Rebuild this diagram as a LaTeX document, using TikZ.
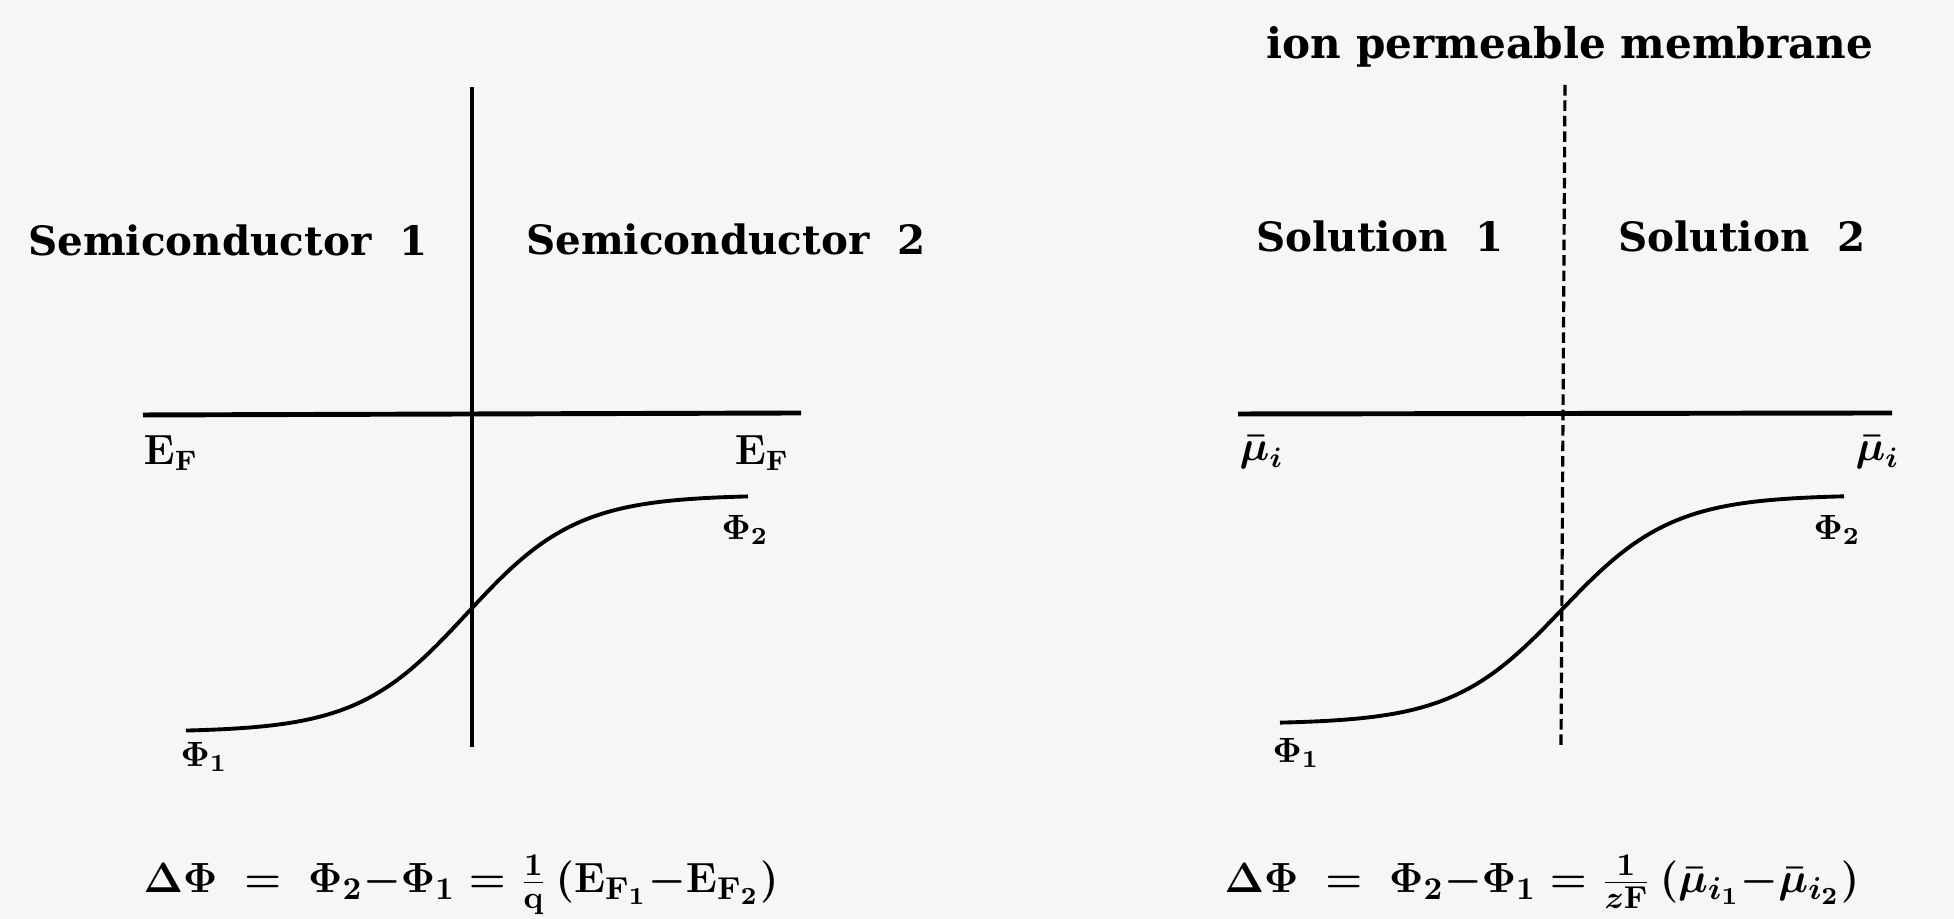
\documentclass[tikz,border=0pt]{standalone}
\usepackage{amsmath, amssymb}
\usepackage[no-math]{fontspec}
\setmainfont{DejaVu Serif}
\usepackage{xcolor}
\usepackage{tikz}
\usetikzlibrary{positioning, calc}

\definecolor{paper}{RGB}{246,246,246}

\tikzset{
	region/.style={inner sep=0pt, font=\bfseries\fontsize{11.5}{14}\selectfont},
	lbl/.style={inner sep=0pt, font={\fontsize{12}{14}\selectfont\boldmath}},
	philbl/.style={inner sep=0pt, font={\fontsize{10}{12}\selectfont\boldmath}},
	formula/.style={inner sep=0pt, font={\fontsize{13.2}{16}\selectfont\boldmath}},
	level/.style={line width=1.4pt},
	wall/.style={line width=0.9pt},
	membrane/.style={line width=0.9pt, dash pattern=on 3pt off 1.4pt},
	potential/.style={line width=1.1pt, smooth, samples=120},
}

\begin{document}
\begin{tikzpicture}
		% Frame
		\useasboundingbox (0,0) rectangle (19.54,9.19);
		\fill[paper] (0,0) rectangle (19.54,9.19);
		
		% --- Left: semiconductor junction ---
		\coordinate (jTop) at (4.72,8.32);
		\coordinate (jBot) at (4.72,1.72);
		\draw[wall] (jTop) -- (jBot);
		
		% Fermi level
		\coordinate (efA) at (1.43,5.04);
		\coordinate (efB) at (8.01,5.06);
		\draw[level] (efA) -- (efB);
		\node[lbl, anchor=north west] (efL) at (1.43,4.84) {$\mathbf{E}_{\mathbf{F}}$};
		\node[lbl, anchor=north east] (efR) at (7.90,4.84) {$\mathbf{E}_{\mathbf{F}}$};
		
		% Potential step
		\draw[potential, domain=1.86:7.48]
		plot (\x, {3.055+1.185*tanh((\x-4.67)/1.1)});
		\node[philbl] (phiA) at (2.04,1.62) {$\Phi_1$};
		\node[philbl] (phiB) at (7.45,3.89) {$\Phi_2$};
		
		% Labels
		\node[region] (semiA) at (2.28,6.79) {Semiconductor\ \ 1};
		\node[region] (semiB) at (7.26,6.80) {Semiconductor\ \ 2};
		\node[formula, anchor=base west] (eqA) at (1.43,0.26)
		{$\Delta\Phi \;=\; \Phi_2{-}\Phi_1 = \tfrac{1}{\mathbf{q}}\,(\mathbf{E}_{\mathbf{F}_1}{-}\mathbf{E}_{\mathbf{F}_2})$};
		
		% --- Right: two solutions ---
		\coordinate (mTop) at (15.65,8.34);
		\coordinate (mBot) at (15.61,1.74);
		\draw[membrane] (mTop) -- (mBot);
		
		% Electrochemical potential
		\coordinate (muA) at (12.38,5.05);
		\coordinate (muB) at (18.92,5.06);
		\draw[level] (muA) -- (muB);
		\node[lbl, anchor=north west] (muL) at (12.39,4.84) {$\bar{\mu}_i$};
		\node[lbl, anchor=north east] (muR) at (19.00,4.84) {$\bar{\mu}_i$};
		
		% Potential step
		\draw[potential, domain=12.80:18.44]
		plot (\x, {3.095+1.145*tanh((\x-15.62)/1.1)});
		\node[philbl] (phiC) at (12.96,1.66) {$\Phi_1$};
		\node[philbl] (phiD) at (18.37,3.89) {$\Phi_2$};
		
		% Labels
		\node[region, font=\bfseries\fontsize{12}{14}\selectfont] (ipm) at (15.70,8.72) {ion permeable membrane};
		\node[region] (solA) at (13.80,6.83) {Solution\ \ 1};
		\node[region] (solB) at (17.42,6.83) {Solution\ \ 2};
		\node[formula, anchor=base west] (eqB) at (12.24,0.26)
		{$\Delta\Phi \;=\; \Phi_2{-}\Phi_1 = \tfrac{1}{z\mathbf{F}}\,(\bar{\mu}_{i_1}{-}\bar{\mu}_{i_2})$};
	\end{tikzpicture}
\end{document}
